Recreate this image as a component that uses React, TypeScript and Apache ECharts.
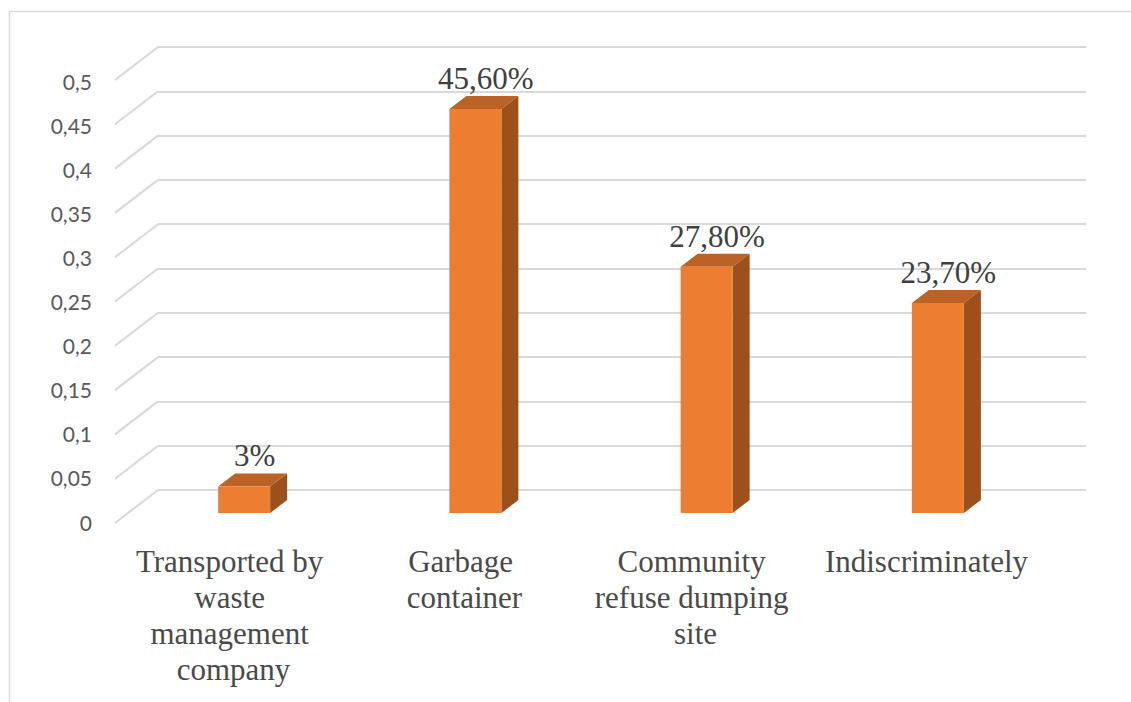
import React, { useEffect, useRef } from "react";
import * as echarts from "echarts";

const categories = [
  "Transported by waste management company",
  "Garbage container",
  "Community refuse dumping site",
  "Indiscriminately",
];
const values = [0.03, 0.456, 0.278, 0.237];
const valueLabels = ["3%", "45,60%", "27,80%", "23,70%"];
const yTicks = [0, 0.05, 0.1, 0.15, 0.2, 0.25, 0.3, 0.35, 0.4, 0.45, 0.5];
const yMin = 0;
const yMax = 0.5;
const yStep = 0.05;

const FRONT = "#ED7D31";
const TOP = "#BB6226";
const SIDE = "#9C501C";
const GRID = "#D9D9D9";
const TEXT = "#404040";

export default function App() {
  const ref = useRef<HTMLDivElement>(null);
  useEffect(() => {
    if (!ref.current) return;
    const chart = echarts.init(ref.current, null, { renderer: "svg" });
    const hw = 26;
    const dx = 17;
    const dy = -13;
    const option: any = {
      animation: false,
      backgroundColor: "#ffffff",
      graphic: [
        {
          type: "rect",
          shape: { x: 9.5, y: 11.5, width: 1200, height: 800 },
          style: { fill: "none", stroke: "#D9D9D9", lineWidth: 1.5 },
          silent: true,
          z: -10,
        },
      ],
      grid: [
        { left: 158, right: 45, top: 47, bottom: 212 },
        { left: 118, right: 89, top: 81, bottom: 180 },
        { left: 128.5, right: 77.5, top: 70, bottom: 189 },
      ],
      xAxis: [
        { gridIndex: 0, type: "category", data: categories, show: false },
        {
          gridIndex: 1,
          type: "category",
          data: categories,
          axisLine: { show: false },
          axisTick: { show: false },
          axisLabel: {
            interval: 0,
            margin: 21,
            width: 210,
            overflow: "break",
            fontFamily: "Liberation Serif",
            fontSize: 31,
            lineHeight: 36,
            color: "#4a4a4a",
            align: "center",
          },
        },
        { gridIndex: 2, type: "category", data: categories, show: false },
      ],
      yAxis: [
        {
          gridIndex: 0,
          type: "value",
          min: yMin,
          max: yMax,
          interval: yStep,
          axisLine: { show: false },
          axisTick: { show: false },
          axisLabel: { show: false },
          splitLine: { show: true, lineStyle: { color: GRID, width: 2 } },
        },
        {
          gridIndex: 1,
          type: "value",
          min: yMin,
          max: yMax,
          interval: yStep,
          axisLine: { show: false },
          axisTick: { show: false },
          splitLine: { show: false },
          axisLabel: {
            margin: 26,
            fontFamily: "Lato",
            fontSize: 21,
            color: "#595959",
            formatter: (v: number) => String(Number(v.toFixed(2))).replace(".", ","),
          },
        },
        {
          gridIndex: 2,
          type: "value",
          min: yMin,
          max: yMax,
          interval: yStep,
          show: false,
          splitLine: { show: false },
        },
      ],
      series: [
        {
          type: "custom",
          xAxisIndex: 0,
          yAxisIndex: 0,
          clip: false,
          silent: true,
          z: 1,
          data: yTicks.map((t) => [0, t]),
          renderItem: (params: any, api: any) => {
            const y = api.coord([0, api.value(1)])[1];
            const x = params.coordSys.x;
            return {
              type: "line",
              shape: { x1: x, y1: y, x2: x - 43, y2: y + 33 },
              style: { stroke: GRID, lineWidth: 2 },
            };
          },
        },
        {
          type: "custom",
          xAxisIndex: 2,
          yAxisIndex: 2,
          clip: false,
          z: 5,
          data: values.map((v, i) => [i, v]),
          renderItem: (params: any, api: any) => {
            const idx = params.dataIndex;
            const i = api.value(0);
            const v = api.value(1);
            const top = api.coord([i, v]);
            const base = api.coord([i, 0]);
            const x0 = top[0] - hw;
            const x1 = top[0] + hw;
            const yt = top[1];
            const yb = base[1];
            return {
              type: "group",
              children: [
                {
                  type: "polygon",
                  shape: {
                    points: [
                      [x0, yt],
                      [x1, yt],
                      [x1 + dx, yt + dy],
                      [x0 + dx, yt + dy],
                    ],
                  },
                  style: { fill: TOP },
                },
                {
                  type: "polygon",
                  shape: {
                    points: [
                      [x1, yt],
                      [x1, yb],
                      [x1 + dx, yb + dy],
                      [x1 + dx, yt + dy],
                    ],
                  },
                  style: { fill: SIDE },
                },
                {
                  type: "rect",
                  shape: { x: x0, y: yt, width: 2 * hw, height: yb - yt },
                  style: { fill: FRONT },
                },
                {
                  type: "text",
                  x: top[0] + dx / 2 + 2,
                  y: yt + dy - 2,
                  style: {
                    text: valueLabels[idx],
                    align: "center",
                    verticalAlign: "bottom",
                    fontFamily: "Liberation Serif",
                    fontSize: 31,
                    fill: TEXT,
                  },
                },
              ],
            };
          },
        },
      ],
    };
    chart.setOption(option);
    return () => chart.dispose();
  }, []);
  return (
    <div
      ref={ref}
      style={{ position: "fixed", left: 0, top: 0, width: 1131, height: 702, background: "#fff" }}
    />
  );
}
